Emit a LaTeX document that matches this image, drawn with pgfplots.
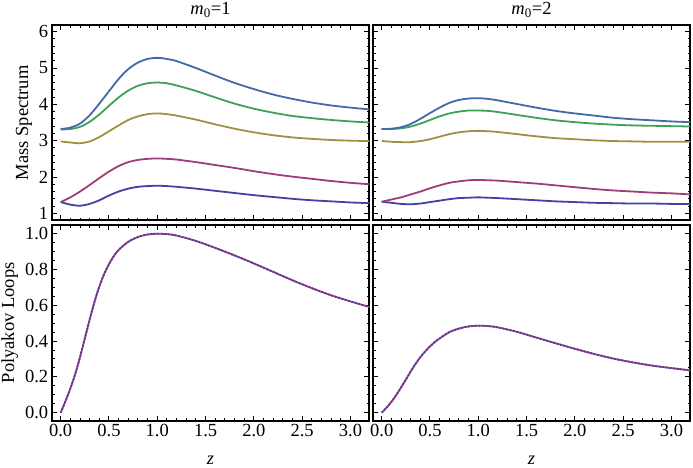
\documentclass[border=0pt]{standalone}
\usepackage{fontspec}
\setmainfont{Liberation Serif}
\usepackage{pgfplots}
\usepackage{pgfplotstable}
\pgfplotsset{compat=1.18}

\definecolor{mdblue}{HTML}{4242A6}
\definecolor{mmag}{HTML}{A03C78}
\definecolor{molive}{HTML}{A09040}
\definecolor{mgreen}{HTML}{3FA05A}
\definecolor{mblue}{HTML}{4468AA}

% mass spectrum, m0=1: z, five levels
\pgfplotstableread{
z    a    b    c    d    e
0.0  1.31 1.31 2.98 3.31 3.32
0.1  1.24 1.44 2.95 3.32 3.36
0.2  1.21 1.60 2.93 3.38 3.47
0.3  1.26 1.78 2.98 3.52 3.70
0.4  1.36 1.97 3.10 3.72 4.02
0.5  1.49 2.15 3.26 3.96 4.36
0.6  1.60 2.30 3.42 4.19 4.70
0.7  1.68 2.41 3.57 4.38 4.97
0.8  1.73 2.47 3.67 4.51 5.15
0.9  1.75 2.50 3.73 4.58 5.25
1.0  1.76 2.51 3.75 4.60 5.28
1.1  1.75 2.50 3.73 4.58 5.25
1.2  1.73 2.48 3.69 4.52 5.19
1.4  1.68 2.41 3.58 4.37 5.00
1.6  1.62 2.33 3.45 4.19 4.79
1.8  1.56 2.25 3.33 4.02 4.59
2.0  1.50 2.16 3.23 3.88 4.42
2.2  1.45 2.08 3.15 3.77 4.27
2.4  1.40 2.01 3.09 3.68 4.15
2.6  1.36 1.95 3.05 3.62 4.05
2.8  1.33 1.89 3.02 3.57 3.97
3.0  1.30 1.84 3.00 3.53 3.91
3.2  1.28 1.80 2.99 3.50 3.86
}\massA

% mass spectrum, m0=2
\pgfplotstableread{
z    a    b    c    d    e
0.0  1.32 1.32 2.99 3.32 3.32
0.1  1.29 1.38 2.97 3.32 3.33
0.2  1.26 1.44 2.96 3.34 3.37
0.3  1.25 1.52 2.96 3.39 3.46
0.4  1.27 1.60 2.99 3.47 3.60
0.5  1.31 1.69 3.04 3.57 3.76
0.6  1.35 1.77 3.11 3.67 3.91
0.7  1.39 1.84 3.18 3.75 4.04
0.8  1.42 1.88 3.23 3.80 4.12
0.9  1.43 1.91 3.26 3.83 4.16
1.0  1.44 1.92 3.27 3.83 4.17
1.1  1.43 1.91 3.26 3.82 4.15
1.2  1.42 1.90 3.24 3.79 4.11
1.4  1.39 1.86 3.18 3.71 4.01
1.6  1.36 1.82 3.12 3.63 3.91
1.8  1.33 1.77 3.07 3.56 3.82
2.0  1.31 1.72 3.04 3.51 3.75
2.2  1.29 1.67 3.01 3.47 3.69
2.4  1.28 1.63 2.99 3.44 3.63
2.6  1.27 1.60 2.98 3.42 3.59
2.8  1.27 1.57 2.97 3.41 3.56
3.0  1.26 1.55 2.97 3.40 3.53
3.2  1.26 1.52 2.97 3.39 3.51
}\massB

% polyakov loops, m0=1 and m0=2
\pgfplotstableread{
z    p     q
0.0  0.00  0.000
0.05 0.065 0.028
0.1  0.135 0.060
0.15 0.215 0.098
0.2  0.31  0.140
0.25 0.415 0.185
0.3  0.52  0.230
0.35 0.62  0.272
0.4  0.705 0.310
0.45 0.775 0.342
0.5  0.83  0.370
0.55 0.875 0.395
0.6  0.91  0.415
0.7  0.955 0.450
0.8  0.982 0.470
0.9  0.996 0.482
1.0  1.000 0.486
1.1  0.998 0.484
1.2  0.990 0.477
1.4  0.960 0.452
1.6  0.921 0.420
1.8  0.879 0.388
2.0  0.834 0.357
2.2  0.787 0.328
2.4  0.740 0.302
2.6  0.696 0.281
2.8  0.656 0.263
3.0  0.622 0.249
3.2  0.590 0.236
}\loops

\pgfplotsset{
  panel/.style={
    scale only axis, width=317.6pt,
    xmin=-0.093, xmax=3.195,
    xtick={0,0.5,...,3}, minor x tick num=4,
    tick pos=both, tick align=inside,
    major tick length=5pt, minor tick length=2.8pt,
    every tick/.style={black, line width=1pt},
    axis line style={line width=2pt},
    tick label style={font=\fontsize{18.5}{20}\selectfont},
    label style={font=\fontsize{18.5}{20}\selectfont},
    title style={font=\fontsize{18.5}{20}\selectfont, yshift=-2pt},
    /pgf/number format/assume math mode=true,
    xticklabel style={/pgf/number format/.cd, fixed, fixed zerofill, precision=1},
    yticklabel style={/pgf/number format/.cd, fixed, fixed zerofill, precision=1},
    every axis plot/.append style={line width=1.8pt, smooth},
  },
  massp/.style={panel, height=195.5pt, ymin=0.803, ymax=6.184,
    ytick={1,...,6}, minor y tick num=4, xticklabel=\empty,
    yticklabel style={/pgf/number format/precision=0}},
  loopp/.style={panel, height=195.7pt, ymin=-0.045, ymax=1.049,
    ytick={0,0.2,...,1.0}, minor y tick num=3, xlabel={\textit{z}},
    xlabel style={yshift=-12pt}},
}

\begin{document}
\begin{tikzpicture}
\path[use as bounding box] (0,0) rectangle (693pt,-468pt);

\begin{axis}[massp, at={(51.7pt,-25pt)}, anchor=north west,
  title={\textit{m}\textsubscript{0}=1}, ylabel={Mass Spectrum}]
\addplot[mdblue] table[x=z, y=a] {\massA};
\addplot[mmag] table[x=z, y=b] {\massA};
\addplot[molive] table[x=z, y=c] {\massA};
\addplot[mgreen] table[x=z, y=d] {\massA};
\addplot[mblue] table[x=z, y=e] {\massA};
\end{axis}

\begin{axis}[massp, at={(372.7pt,-25pt)}, anchor=north west,
  title={\textit{m}\textsubscript{0}=2}, yticklabel=\empty]
\addplot[mdblue] table[x=z, y=a] {\massB};
\addplot[mmag] table[x=z, y=b] {\massB};
\addplot[molive] table[x=z, y=c] {\massB};
\addplot[mgreen] table[x=z, y=d] {\massB};
\addplot[mblue] table[x=z, y=e] {\massB};
\end{axis}

\begin{axis}[loopp, at={(51.7pt,-225pt)}, anchor=north west,
  ylabel={Polyakov Loops}]
\addplot[mmag] table[x=z, y=p] {\loops};
\addplot[mdblue, dash pattern=on 1.5pt off 2pt] table[x=z, y=p] {\loops};
\end{axis}

\begin{axis}[loopp, at={(372.7pt,-225pt)}, anchor=north west,
  yticklabel=\empty]
\addplot[mmag] table[x=z, y=q] {\loops};
\addplot[mdblue, dash pattern=on 1.5pt off 2pt] table[x=z, y=q] {\loops};
\end{axis}
\end{tikzpicture}
\end{document}
